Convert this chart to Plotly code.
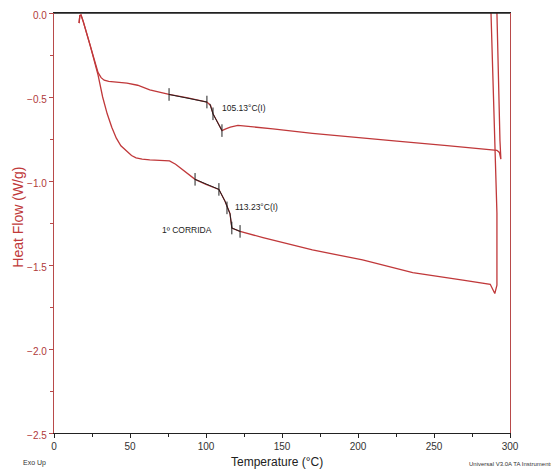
import plotly.graph_objects as go

# ---- data ----
# Upper curve (run with transition at 105.13 °C)
t_upper = [16.5, 17.0, 17.8, 19.3, 23.7, 27.0, 29.0, 31.0, 33.0, 36.0, 41.0, 48.0, 55.0, 63.0,
           70.0, 75.7, 88.0, 100.6, 103.0, 104.6, 107.0, 110.5, 113.0, 116.0, 121.0, 130.0,
           144.0, 170.0, 193.0, 225.6, 258.6, 285.0, 291.4, 293.0, 294.0, 293.4, 292.5, 291.4]
hf_upper = [-0.06, -0.015, -0.012, -0.053, -0.19, -0.30, -0.355, -0.385, -0.40, -0.407,
            -0.41, -0.418, -0.43, -0.457, -0.472, -0.485, -0.505, -0.53, -0.55, -0.60, -0.64,
            -0.70, -0.69, -0.68, -0.669, -0.676, -0.69, -0.716, -0.734, -0.763, -0.79, -0.812,
            -0.817, -0.83, -0.87, -0.76, -0.40, 0.0]

# Lower curve (1º CORRIDA, transition at 113.23 °C)
t_lower = [16.5, 17.0, 17.8, 19.3, 23.7, 27.0, 29.0, 32.0, 35.0, 38.0, 41.0, 44.0, 48.0, 51.0,
           54.0, 58.0, 63.0, 70.0, 76.0, 80.0, 86.0, 92.8, 100.0, 108.5, 112.5, 115.8, 117.0,
           122.4, 137.5, 170.0, 203.0, 236.0, 269.0, 287.0, 290.0, 291.4, 291.4, 290.8, 287.5]
hf_lower = [-0.06, -0.015, -0.012, -0.053, -0.19, -0.30, -0.37, -0.50, -0.60, -0.68, -0.745,
            -0.79, -0.825, -0.848, -0.862, -0.870, -0.874, -0.876, -0.88, -0.90, -0.94, -0.99,
            -1.02, -1.05, -1.12, -1.195, -1.28, -1.30, -1.337, -1.41, -1.47, -1.545, -1.59,
            -1.615, -1.67, -1.62, -1.19, -1.0, 0.0]

# Tangent construction lines (black) and their tick marks
tan_upper_t = [75.7, 100.6, None, 102.5, 104.6, 110.5]
tan_upper_hf = [-0.485, -0.53, None, -0.54, -0.60, -0.70]
tick_upper_t = [75.7, 100.6, 104.6, 110.5]
tick_upper_hf = [-0.485, -0.53, -0.60, -0.70]

tan_lower_t = [92.8, 108.5, None, 108.5, 112.5, 115.8, 117.0, 122.4]
tan_lower_hf = [-0.99, -1.05, None, -1.05, -1.12, -1.195, -1.28, -1.30]
tick_lower_t = [92.8, 108.5, 113.8, 117.0, 122.4]
tick_lower_hf = [-0.99, -1.05, -1.16, -1.28, -1.30]

# Text labels on the plot
label_texts = ["105.13°C(I)", "113.23°C(I)", "1º CORRIDA"]
label_t = [109.5, 118.0, 69.5]
label_hf = [-0.563, -1.155, -1.29]

RED = "#c0383a"
AXRED = "#b84a4a"
DARK = "#222222"

fig = go.Figure()
for t, hf in [(t_upper, hf_upper), (t_lower, hf_lower)]:
    fig.add_trace(go.Scatter(x=t, y=hf, mode="lines",
                             line=dict(color=RED, width=1.3), hoverinfo="skip"))
for t, hf in [(tan_upper_t, tan_upper_hf), (tan_lower_t, tan_lower_hf)]:
    fig.add_trace(go.Scatter(x=t, y=hf, mode="lines",
                             line=dict(color=DARK, width=1), hoverinfo="skip"))
for t, hf in [(tick_upper_t, tick_upper_hf), (tick_lower_t, tick_lower_hf)]:
    fig.add_trace(go.Scatter(x=t, y=hf, mode="markers",
                             marker=dict(symbol="line-ns-open", size=9, color=DARK,
                                         line=dict(color=DARK, width=1)),
                             hoverinfo="skip"))

for txt, x, y in zip(label_texts, label_t, label_hf):
    fig.add_annotation(x=x, y=y, text=txt, showarrow=False, xanchor="left",
                       yanchor="middle", font=dict(size=8.5, color=DARK))

# top frame line (black) drawn explicitly
fig.add_shape(type="line", xref="paper", yref="paper", x0=0, x1=1, y0=1, y1=1,
              layer="above", line=dict(color=DARK, width=1.5))

# axis titles and footer texts
fig.add_annotation(xref="paper", yref="paper", x=0.49, y=-0.069, text="Temperature (°C)",
                   showarrow=False, xanchor="center", yanchor="middle",
                   font=dict(size=12, color=DARK))
fig.add_annotation(xref="paper", yref="paper", x=-0.079, y=0.515, text="Heat Flow (W/g)",
                   showarrow=False, textangle=-90, xanchor="center", yanchor="middle",
                   font=dict(size=14, color="#c03a3a"))
fig.add_annotation(xref="paper", yref="paper", x=-0.072, y=-0.071, text="Exo Up",
                   showarrow=False, xanchor="left", yanchor="middle",
                   font=dict(size=7, color="#333333"))
fig.add_annotation(xref="paper", yref="paper", x=1.098, y=-0.073,
                   text="Universal V3.0A TA Instruments", showarrow=False,
                   xanchor="right", yanchor="middle", font=dict(size=6, color="#333333"))

# the page places the figure 8 px from the top-left corner, so the figure is sized to fit
fig.update_layout(
    width=551, height=468,
    margin=dict(l=46, r=49, t=5, b=43, autoexpand=False),
    paper_bgcolor="white", plot_bgcolor="white",
    showlegend=False,
    font=dict(family="Liberation Sans, Arial, sans-serif"),
    xaxis=dict(range=[0, 300], showline=True, linecolor=DARK, linewidth=1.3,
               mirror=True, automargin=False, ticklabeloverflow="allow",
               ticks="outside", ticklen=4, tickcolor=DARK, dtick=50, tick0=0,
               minor=dict(dtick=25, ticks="outside", ticklen=3, tickcolor=DARK),
               showgrid=False, zeroline=False,
               tickfont=dict(size=10, color="#333333")),
    yaxis=dict(range=[-2.5, 0], showline=True, linecolor=AXRED, linewidth=1.3,
               mirror=True, automargin=False, ticklabeloverflow="allow",
               ticklabelshift=2,
               ticks="outside", ticklen=4, tickcolor=AXRED, dtick=0.5, tick0=0,
               tickformat=".1f",
               minor=dict(dtick=0.25, ticks="outside", ticklen=3, tickcolor=AXRED),
               showgrid=False, zeroline=False,
               tickfont=dict(size=10, color="#b03a3a")),
)

fig.write_html("out.html")
